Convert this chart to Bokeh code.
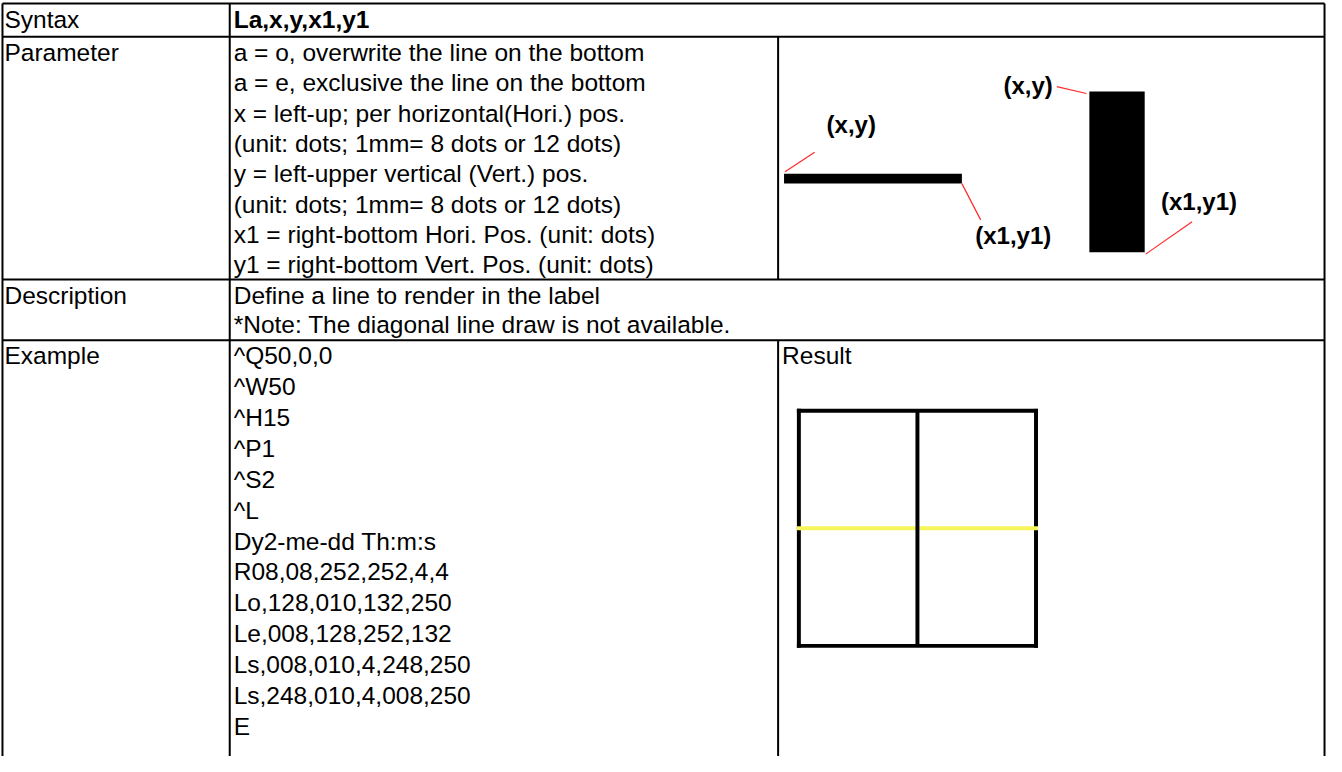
from bokeh.plotting import figure
from bokeh.models import Range1d
from bokeh.embed import file_html
from bokeh.resources import INLINE
from bokeh.core.properties import value

# ---------------- data (texts of the table) ----------------
row_labels = ["Syntax", "Parameter", "Description", "Example"]
syntax_text = "La,x,y,x1,y1"
parameter_lines = [
    "a = o, overwrite the line on the bottom",
    "a = e, exclusive the line on the bottom",
    "x = left-up; per horizontal(Hori.) pos.",
    "(unit: dots; 1mm= 8 dots or 12 dots)",
    "y = left-upper vertical (Vert.) pos.",
    "(unit: dots; 1mm= 8 dots or 12 dots)",
    "x1 = right-bottom Hori. Pos. (unit: dots)",
    "y1 = right-bottom Vert. Pos. (unit: dots)",
]
description_lines = [
    "Define a line to render in the label",
    "*Note: The diagonal line draw is not available.",
]
example_lines = [
    "^Q50,0,0", "^W50", "^H15", "^P1", "^S2", "^L",
    "Dy2-me-dd Th:m:s",
    "R08,08,252,252,4,4",
    "Lo,128,010,132,250",
    "Le,008,128,252,132",
    "Ls,008,010,4,248,250",
    "Ls,248,010,4,008,250",
    "E",
]
result_label = "Result"
diagram_labels = ["(x,y)", "(x1,y1)", "(x,y)", "(x1,y1)"]

# ---------------- layout (reference pixel space) ----------------
W, H = 1342, 772
FONT = value("Liberation Sans")
FS = value("24.5px")

p = figure(width=1326, height=756, output_backend="svg", toolbar_location=None,
           x_range=Range1d(0, W), y_range=Range1d(H, 0), min_border=0)
p.axis.visible = False
p.grid.visible = False
p.outline_line_color = None
p.background_fill_color = "white"
p.border_fill_color = "white"

# table rule positions
LEFT, COL1, COL2, RIGHT = 2, 232, 787, 1340
TOP, R1, R2, R3 = 3, 37, 285, 347

hx0 = [LEFT, LEFT, LEFT, LEFT]
hx1 = [RIGHT, RIGHT, RIGHT, RIGHT]
hy = [TOP, R1, R2, R3]
p.segment(x0=hx0, y0=hy, x1=hx1, y1=hy, line_color="black", line_width=2)
vx = [LEFT, COL1, RIGHT, COL2, COL2]
vy0 = [TOP, TOP, TOP, R1, R3]
vy1 = [H, H, H, R2, H]
p.segment(x0=vx, y0=vy0, x1=vx, y1=vy1, line_color="black", line_width=2)

# ---------------- texts (vertical centres of lines) ----------------
MID = 16
row_tops = [TOP, R1, R2, R3]
common = dict(text_font=FONT, text_font_size=FS, text_baseline="middle",
              text_align="left", text_color="black")

p.text(x=[LEFT + 2] * 4, y=[t + MID for t in row_tops], text=row_labels, **common)

p.text(x=[COL1 + 4], y=[TOP + MID], text=[syntax_text], text_font_style="bold", **common)

P_SP = 31
p.text(x=[COL1 + 4] * len(parameter_lines),
       y=[R1 + MID + i * P_SP for i in range(len(parameter_lines))],
       text=parameter_lines, **common)

D_SP = 30
p.text(x=[COL1 + 4] * len(description_lines),
       y=[R2 + MID + i * D_SP for i in range(len(description_lines))],
       text=description_lines, **common)

E_SP = 31.5
p.text(x=[COL1 + 4] * len(example_lines),
       y=[R3 + MID + i * E_SP for i in range(len(example_lines))],
       text=example_lines, **common)

p.text(x=[COL2 + 4], y=[R3 + MID], text=[result_label], **common)

# ---------------- parameter diagram ----------------
hbar = dict(left=[793], right=[973], top=[177], bottom=[187])
vbar = dict(left=[1102], right=[1158], top=[93], bottom=[257])
p.quad(**hbar, fill_color="black", line_color=None)
p.quad(**vbar, fill_color="black", line_color=None)
rx0 = [794, 973, 1069, 1206]
ry0 = [175, 187, 88, 226]
rx1 = [824, 992, 1099, 1159]
ry1 = [155, 224, 95, 259]
p.segment(x0=rx0, y0=ry0, x1=rx1, y1=ry1, line_color="#ff2a2a", line_width=1.2)
p.text(x=[861, 1025, 1040, 1213], y=[127, 240, 87, 205], text=diagram_labels,
       text_font=FONT, text_font_size=value("24px"), text_font_style="bold",
       text_baseline="middle", text_align="center", text_color="black")

# ---------------- result drawing from example commands ----------------
def parse(prefix):
    for s in example_lines:
        if s.startswith(prefix):
            parts = s.split(",")
            first = parts[0][len(prefix):]
            vals = ([first] if first else []) + parts[1:]
            return [int(v) for v in vals]

rx, ry, rx1_, ry1_, lw, lh = parse("R")
lo = parse("Lo")
le = parse("Le")
OX, OY = 798, 409  # one dot = one pixel

# rectangle frame
p.quad(left=[OX + rx, OX + rx, OX + rx, OX + rx1_ - lw],
       right=[OX + rx1_, OX + rx1_, OX + rx + lw, OX + rx1_],
       top=[OY + ry, OY + ry1_ - lh, OY + ry, OY + ry],
       bottom=[OY + ry + lh, OY + ry1_, OY + ry1_, OY + ry1_],
       fill_color="black", line_color=None)
# exclusive line (yellow)
p.quad(left=[OX + le[0]], right=[OX + le[2]], top=[OY + le[1]], bottom=[OY + le[3]],
       fill_color="#f6f65a", line_color=None)
# overwrite line (black)
p.quad(left=[OX + lo[0]], right=[OX + lo[2]], top=[OY + lo[1]], bottom=[OY + lo[3]],
       fill_color="black", line_color=None)

open("out.html", "w").write(file_html(p, INLINE))
